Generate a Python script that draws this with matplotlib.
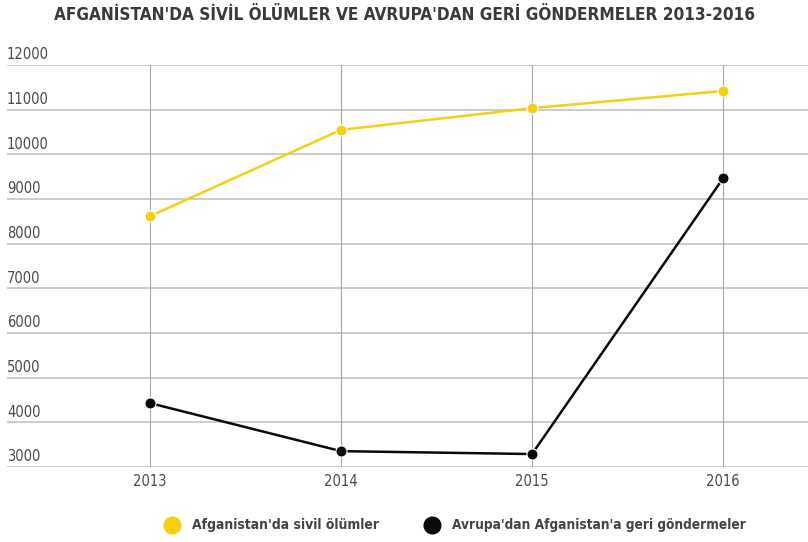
import matplotlib.pyplot as plt
import matplotlib.transforms as mtransforms

# Data
years = [2013, 2014, 2015, 2016]
civilian_deaths = [8615, 10548, 11034, 11418]
returns_from_europe = [4430, 3355, 3290, 9460]
y_ticks = [3000, 4000, 5000, 6000, 7000, 8000, 9000, 10000, 11000, 12000]

title = "AFGANİSTAN'DA SİVİL ÖLÜMLER VE AVRUPA'DAN GERİ GÖNDERMELER 2013-2016"
label_deaths = "Afganistan'da sivil ölümler"
label_returns = "Avrupa'dan Afganistan'a geri göndermeler"

font = dict(family='DejaVu Sans', stretch='condensed')
yellow = '#f5cf14'
black = '#0a0a0a'
text_gray = '#4a4a4a'

W, H = 808, 542
fig = plt.figure(figsize=(W / 100, H / 100), dpi=100)
ax = fig.add_axes([7 / W, (H - 467) / H, 801 / W, 402 / H])

ax.set_xlim(2013 - 143 / 191, 2016 + 85 / 191)
ax.set_ylim(3000, 12000)

# grid
for v in y_ticks:
    ax.axhline(v, color='#c4c4c4', lw=1.2, zorder=1)
for yr in years:
    ax.axvline(yr, color='#a8a8a8', lw=0.8, zorder=1)

ax.plot(years, civilian_deaths, color=yellow, lw=1.8, marker='o', ms=8,
        mec='white', mew=0.8, zorder=3, clip_on=False)
ax.plot(years, returns_from_europe, color=black, lw=1.8, marker='o', ms=8,
        mec='white', mew=0.8, zorder=3, clip_on=False)

for s in ax.spines.values():
    s.set_visible(False)
ax.set_xticks([])
ax.set_yticks([])

# y labels sit above their gridline, left aligned
trans = mtransforms.blended_transform_factory(ax.transAxes, ax.transData)
for v in y_ticks:
    ax.text(0.0, v + 225, str(v), transform=trans, ha='left', va='center',
            fontsize=10.5, color=text_gray, **font)

for yr in years:
    ax.text(yr, 3000 - 320, str(yr), ha='center', va='center',
            fontsize=10.5, color=text_gray, **font)

texts = []  # (text, target width in px)
t = fig.text(405 / W, 1 - 15 / H, title, ha='center', va='center',
             fontsize=14, fontweight='bold', color='#3a3a3a', **font)
texts.append((t, 706))

# legend
leg_y = 1 - 525 / H
fig.lines.append(plt.Line2D([172 / W], [leg_y], marker='o', ms=12, color=yellow,
                            transform=fig.transFigure))
t = fig.text(192 / W, leg_y, label_deaths, ha='left', va='center', fontsize=12.5,
             fontweight='bold', color='#444444', **font)
texts.append((t, 188))
fig.lines.append(plt.Line2D([432 / W], [leg_y], marker='o', ms=12, color=black,
                            transform=fig.transFigure))
t = fig.text(452 / W, leg_y, label_returns, ha='left', va='center', fontsize=12.5,
             fontweight='bold', color='#444444', **font)
texts.append((t, 296))

# scale title and legend texts so their width matches the reference
fig.canvas.draw()
r = fig.canvas.get_renderer()
for t, target in texts:
    w = t.get_window_extent(r).width
    t.set_fontsize(t.get_fontsize() * target / w)

fig.savefig('out.png', dpi=100)
